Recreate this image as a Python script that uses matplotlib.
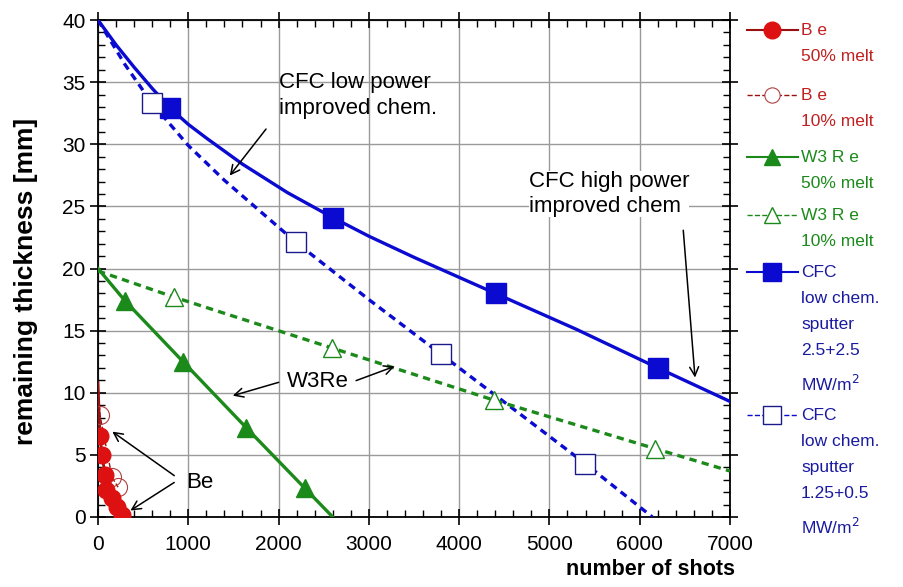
import numpy as np
import matplotlib
matplotlib.use('Agg')
import matplotlib.pyplot as plt
from matplotlib.lines import Line2D

plt.rcParams['font.family'] = ['Liberation Sans', 'DejaVu Sans']

# Data
be50_x = [0, 22, 44, 78, 89, 155, 210, 266]
be50_y = [10.8, 6.5, 5.0, 3.4, 2.2, 1.5, 0.8, 0.2]
be10_x = [0, 22, 155, 222]
be10_y = [10.8, 8.2, 3.2, 2.4]

w50_x = [0, 299, 942, 1640, 2293, 2600]
w50_y = [20.0, 17.4, 12.5, 7.2, 2.3, 0.0]
w10_x = [0, 842, 2593, 4388, 6172, 7000]
w10_y = [19.8, 17.7, 13.6, 9.4, 5.5, 3.7]

cfc_hi_line_x = [0, 200, 400, 600, 800, 1000, 1200, 1600, 2100, 2600, 3000, 3500,
                 4400, 5300, 6200, 7000]
cfc_hi_line_y = [40.0, 38.0, 36.2, 34.5, 32.9, 31.6, 30.5, 28.4, 26.1, 24.1, 22.6, 20.9,
                 18.0, 15.1, 12.0, 9.3]
cfc_hi_pts_x = [800, 2604, 4410, 6205]
cfc_hi_pts_y = [32.9, 24.1, 18.0, 12.0]

cfc_lo_line_x = [0, 300, 598, 1000, 1400, 2194, 3000, 3800, 4600, 5396, 6140]
cfc_lo_line_y = [40.0, 36.4, 33.3, 29.9, 27.1, 22.1, 17.5, 13.1, 8.7, 4.3, 0.0]
cfc_lo_pts_x = [598, 2194, 3800, 5396]
cfc_lo_pts_y = [33.3, 22.1, 13.1, 4.3]

red = '#dd1111'
dred = '#9a1010'
green = '#1b8a1b'
blue = '#0a0ad0'
navy = '#1a1a8a'

fig = plt.figure(figsize=(9.04, 5.87), dpi=100)
ax = fig.add_axes([98 / 904, 1 - 517 / 587, (730 - 98) / 904, (517 - 20) / 587])

# CFC
ax.plot(cfc_hi_line_x, cfc_hi_line_y, color=blue, lw=2.4, zorder=3)
ax.plot(cfc_hi_pts_x, cfc_hi_pts_y, 's', ms=14, color=blue, zorder=4)
ax.plot(cfc_lo_line_x, cfc_lo_line_y, color=blue, lw=2.4, ls=(0, (2.2, 1.6)), zorder=3)
ax.plot(cfc_lo_pts_x, cfc_lo_pts_y, 's', ms=14, mfc='white', mec=navy, mew=1, zorder=4)

# W3Re
ax.plot(w50_x, w50_y, color=green, lw=2.4, zorder=3)
ax.plot(w50_x[1:-1], w50_y[1:-1], '^', ms=13, color=green, zorder=4)
ax.plot(w10_x, w10_y, color=green, lw=2.4, ls=(0, (2.2, 1.6)), zorder=3)
ax.plot(w10_x[1:-1], w10_y[1:-1], '^', ms=13, mfc='white', mec=green, mew=1, zorder=4)

# Be
ax.plot(be10_x, be10_y, color=dred, lw=1, ls='--', zorder=3)
ax.plot(be10_x[1:], be10_y[1:], 'o', ms=13, mfc='none', mec='#b04040', mew=0.8, zorder=4)
ax.plot(be50_x, be50_y, color=dred, lw=2, zorder=3)
ax.plot(be50_x[1:], be50_y[1:], 'o', ms=12, color=red, zorder=5)

ax.set_xlim(0, 7000)
ax.set_ylim(0, 40)
ax.set_xticks(np.arange(0, 7001, 1000))
ax.set_xticks(np.arange(0, 7001, 200), minor=True)
ax.set_yticks(np.arange(0, 41, 5))
ax.set_yticks(np.arange(0, 41, 1), minor=True)
ax.grid(True, which='major', color='#9a9a9a', lw=1)
ax.set_axisbelow(True)
ax.tick_params(which='major', direction='inout', length=12, width=1.2,
               top=True, right=True, labelsize=15)
ax.tick_params(axis='x', which='major', pad=7)
ax.tick_params(axis='y', which='major', pad=3)
ax.tick_params(which='minor', direction='in', length=5, width=1,
               top=True, right=True)
for sp in ax.spines.values():
    sp.set_linewidth(1.3)

ax.set_xlabel('number of shots', fontsize=15.5, fontweight='bold', loc='right')
ax.xaxis.set_label_coords(1.008, -0.085)
ax.set_ylabel('remaining thickness [mm]', fontsize=19, fontweight='bold')
ax.yaxis.set_label_coords(-0.095, 0.473)

# Annotations
arr = dict(arrowstyle='->', color='black', lw=1.1, mutation_scale=16)
ax.annotate('', xy=(1440, 27.3), xytext=(1880, 31.4), arrowprops=arr)
ax.text(2000, 33.9, 'CFC low power\nimproved chem.', fontsize=16, va='center', ha='left',
        linespacing=1.3, zorder=6)
ax.text(4770, 26.0, 'CFC high power\nimproved chem', fontsize=16, va='center', ha='left',
        linespacing=1.3, zorder=6, bbox=dict(fc='white', ec='none', pad=0))
ax.annotate('', xy=(6615, 11.0), xytext=(6480, 23.3), arrowprops=arr)
ax.text(2430, 10.9, 'W3Re', fontsize=16, va='center', ha='center', zorder=6)
ax.annotate('', xy=(1463, 9.7), xytext=(2030, 10.9), arrowprops=arr)
ax.annotate('', xy=(3313, 12.2), xytext=(2830, 10.9), arrowprops=arr)
ax.text(1130, 2.8, 'Be', fontsize=16, va='center', ha='center', zorder=6)
ax.annotate('', xy=(133, 7.0), xytext=(870, 3.2), arrowprops=arr)
ax.annotate('', xy=(333, 0.4), xytext=(870, 2.9), arrowprops=arr)

# Legend drawn at the right of the axes
def fx(px):
    return px / 904

def fy(py):
    return 1 - py / 587

entries = [
    (30, 'B e\n50% melt', dict(color=dred, ls='-', lw=1.5),
     dict(marker='o', ms=12, mfc=red, mec=red), '#c02020'),
    (95, 'B e\n10% melt', dict(color=dred, ls='--', lw=1),
     dict(marker='o', ms=11, mfc='white', mec='#b04040', mew=0.8), '#c02020'),
    (157, 'W3 R e\n50% melt', dict(color=green, ls='-', lw=1.5),
     dict(marker='^', ms=12, mfc=green, mec=green), green),
    (215, 'W3 R e\n10% melt', dict(color=green, ls='--', lw=1),
     dict(marker='^', ms=12, mfc='white', mec=green, mew=1), green),
    (272, 'CFC\nlow chem.\nsputter\n2.5+2.5\nMW/m$^2$', dict(color=blue, ls='-', lw=1.5),
     dict(marker='s', ms=13, mfc=blue, mec=blue), '#1a1aa0'),
    (415, 'CFC\nlow chem.\nsputter\n1.25+0.5\nMW/m$^2$', dict(color=blue, ls='--', lw=1),
     dict(marker='s', ms=13, mfc='white', mec=navy, mew=1), '#1a1aa0'),
]
for py, label, lkw, mkw, tcol in entries:
    fig.add_artist(Line2D([fx(747), fx(798)], [fy(py), fy(py)],
                          transform=fig.transFigure, **lkw))
    fig.add_artist(Line2D([fx(772)], [fy(py)], transform=fig.transFigure,
                          ls='none', **mkw))
    fig.text(fx(801), fy(py - 7), label, fontsize=12.5, color=tcol, va='top',
             ha='left', linespacing=1.92, transform=fig.transFigure)

fig.savefig('out.png', dpi=100)
